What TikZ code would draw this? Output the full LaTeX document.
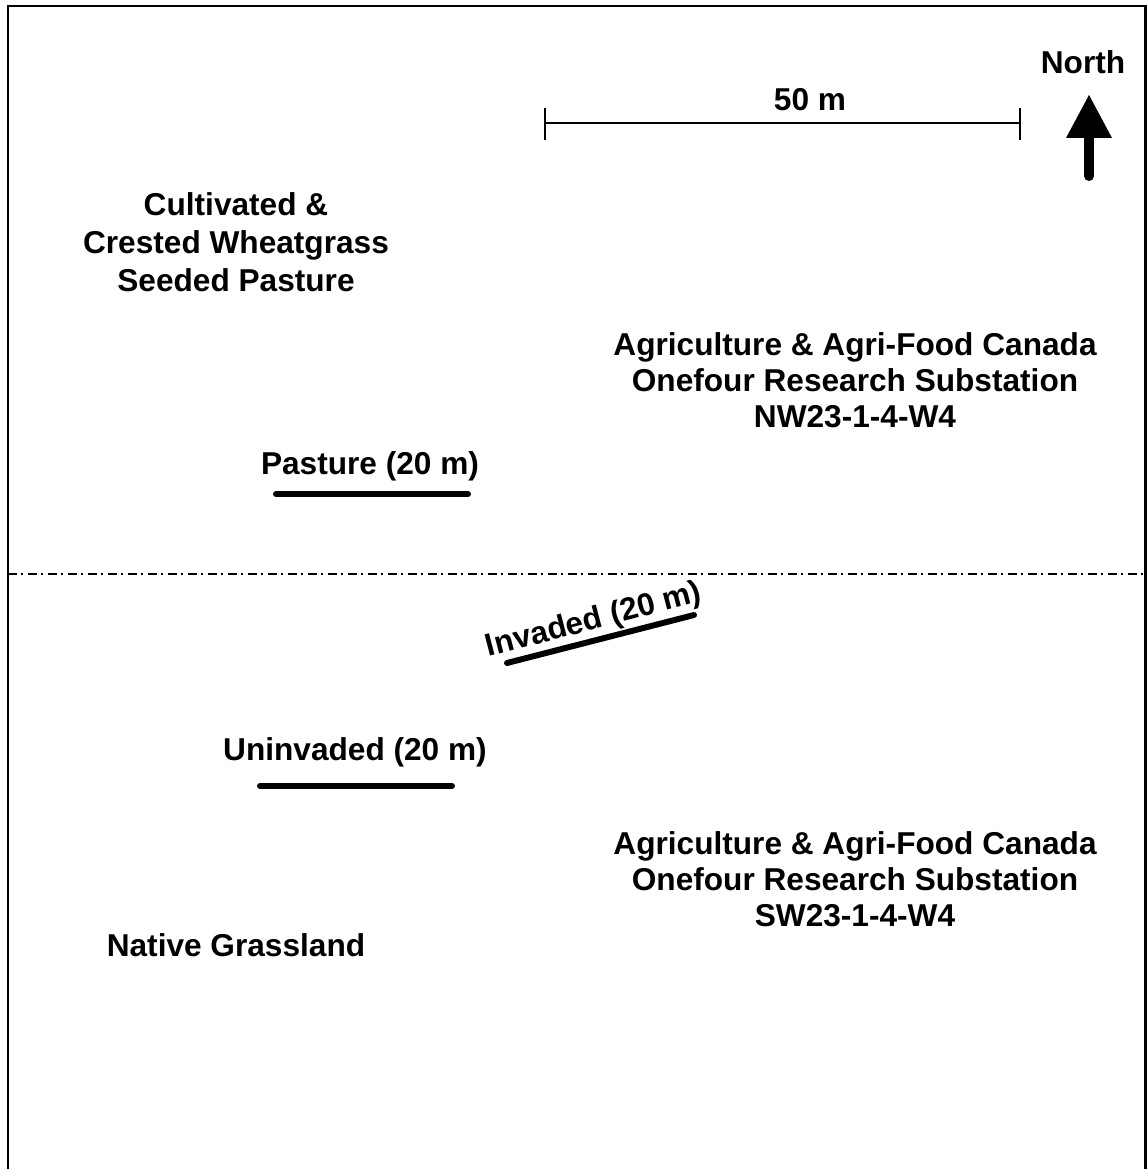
\documentclass[tikz,border=0pt]{standalone}
\usepackage{fontspec}
\setmainfont{Liberation Sans}
\usepackage{xcolor}
\definecolor{inkblack}{RGB}{0,0,0}
\tikzset{
  sitelabel/.style={font=\fontsize{18}{20.5}\selectfont\bfseries, align=center, inner sep=0pt},
  transect/.style={inkblack, line width=3.4pt, line cap=round},
  boundary/.style={inkblack, line width=1.4pt, dash pattern=on 0.18cm off 0.08cm on 0.04cm off 0.1cm}
}

\begin{document}
\begin{tikzpicture}[x=0.02cm, y=-0.02cm]
  \useasboundingbox (0,0) rectangle (1147,1169);
  % frame (bottom edge is cut off)
  \draw[inkblack, line width=1.7pt] (8,1169) -- (8,6) -- (1145,6) -- (1145,1169);
  % scale bar and north arrow
  \node[sitelabel] (scale) at (810,100) {50 m};
  \draw[inkblack, line width=0.8pt] (545,123) -- (1020,123);
  \draw[inkblack, line width=0.8pt] (545,108) -- (545,140);
  \draw[inkblack, line width=0.8pt] (1020,108) -- (1020,140);
  \node[sitelabel] (north) at (1083,62) {North};
  \draw[inkblack, line width=5.7pt, line cap=round] (1089,176) -- (1089,132);
  \fill[inkblack] (1089,95) -- (1112,138) -- (1066,138) -- cycle;
  % north half
  \node[sitelabel, font=\fontsize{18}{21.5}\selectfont\bfseries] (seeded) at (236,242) {Cultivated \&\\Crested Wheatgrass\\Seeded Pasture};
  \node[sitelabel] (nw) at (855,380) {Agriculture \& Agri-Food Canada\\Onefour Research Substation\\NW23-1-4-W4};
  \node[sitelabel] (pasture) at (370,466) {Pasture (20 m)};
  \draw[transect] (276,494) -- (468,494);
  % fence line
  \draw[boundary] (8,574) -- (1145,574);
  % south half
  \node[sitelabel, rotate=14.6] (invaded) at (594,621) {Invaded (20 m)};
  \draw[transect] (507,663) -- (694,615);
  \node[sitelabel] (uninvaded) at (355,752) {Uninvaded (20 m)};
  \draw[transect] (260,786) -- (452,786);
  \node[sitelabel] (sw) at (855,879) {Agriculture \& Agri-Food Canada\\Onefour Research Substation\\SW23-1-4-W4};
  \node[sitelabel] (native) at (236,945) {Native Grassland};
\end{tikzpicture}
\end{document}
